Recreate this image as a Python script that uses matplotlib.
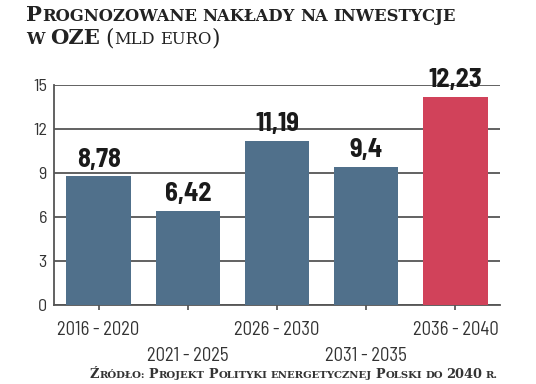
import matplotlib
matplotlib.use("Agg")
import matplotlib.pyplot as plt

# ---- data ----
categories = ["2016 - 2020", "2021 - 2025", "2026 - 2030", "2031 - 2035", "2036 - 2040"]
values = [8.78, 6.42, 11.19, 9.4, 12.23]
value_labels = ["8,78", "6,42", "11,19", "9,4", "12,23"]
# bar heights as drawn in the reference (last bar is drawn taller than its label says)
bar_heights = [8.78, 6.42, 11.19, 9.4, 14.2]
highlight = [False, False, False, False, True]
staggered = [False, True, False, True, False]
yticks = [0, 3, 6, 9, 12, 15]
title_line1 = "Prognozowane nakłady na inwestycje"
title_line2_bold = "w OZE"
title_line2_reg = " (mld euro)"
source_text = "Źródło: Projekt Polityki energetycznej Polski do 2040 r."

W, H = 536, 384
fig = plt.figure(figsize=(W / 100, H / 100), dpi=100)
renderer = fig.canvas.get_renderer()

ax = fig.add_axes([54 / W, 1 - 305 / H, (500 - 54) / W, (305 - 85) / H])
colors = ['#D1425A' if h else '#50708B' for h in highlight]
xs = list(range(len(categories)))
ax.bar(xs, bar_heights, width=0.72, color=colors, zorder=3)
ax.set_xlim(-0.5, 4.5)
ax.set_ylim(0, 15)

tick_font = 'Barlow Semi Condensed'
ax.set_yticks(yticks)
ax.set_yticklabels([str(t) for t in yticks], fontfamily=tick_font,
                   fontweight='normal', fontsize=13, color='#333333')
ax.yaxis.grid(True, color='#555555', linewidth=1.3, zorder=0)
ax.set_axisbelow(True)
ax.tick_params(axis='y', length=0, pad=5)
for s in ['top', 'right']:
    ax.spines[s].set_visible(False)
for s in ['left', 'bottom']:
    ax.spines[s].set_color('#555555')
    ax.spines[s].set_linewidth(1.3)

ax.set_xticks(xs)
ax.set_xticklabels(categories, fontfamily=tick_font, fontweight='normal',
                   fontsize=13.5, color='#333333')
ax.tick_params(axis='x', direction='out', color='#666666', width=1.4)
for tick, st in zip(ax.xaxis.get_major_ticks(), staggered):
    if st:
        tick.tick1line.set_markersize(16.5)
        tick.set_pad(27)
    else:
        tick.tick1line.set_markersize(0)
        tick.set_pad(8)

for x, h, lbl in zip(xs, bar_heights, value_labels):
    ax.annotate(lbl, (x, h), xytext=(0, 7), textcoords='offset points',
                ha='center', va='baseline', fontfamily=tick_font,
                fontweight='bold', fontsize=19, color='#1a1a1a')


def smallcaps(x, y, text, big, small, weight, family='DejaVu Serif',
              color='#222222', sp=0.30, kern=0.4):
    """x, y in pixels from top-left, y is the baseline. Returns end x."""
    runs = []
    for ch in text:
        if ch == ' ':
            kind = 'space'
        elif ch.islower():
            kind = 'small'
        elif ch in ':.' and runs and runs[-1][0] == 'small':
            kind = 'small'
        else:
            kind = 'big'
        if runs and runs[-1][0] == kind:
            runs[-1][1] += ch
        else:
            runs.append([kind, ch])
    for kind, s in runs:
        if kind == 'space':
            x += sp * small * 100 / 72 * len(s)
            continue
        size = big if kind == 'big' else small
        t = fig.text(x / W, 1 - y / H, s.upper(), fontsize=size, fontweight=weight,
                     family=family, fontstretch='normal', color=color,
                     ha='left', va='baseline')
        bb = t.get_window_extent(renderer)
        x = bb.x1 + kern
    return x


TITLE_BIG, TITLE_SMALL = 15.2, 11.8
SRC_BIG, SRC_SMALL = 9.3, 7.3

smallcaps(26, 21, title_line1, TITLE_BIG, TITLE_SMALL, 'bold')
xe = smallcaps(26, 44, title_line2_bold, TITLE_BIG, TITLE_SMALL, 'bold')
smallcaps(xe, 44, title_line2_reg, TITLE_BIG + 0.5, TITLE_SMALL, 'normal')
smallcaps(90, 378, source_text, SRC_BIG, SRC_SMALL, 'bold', color='#333333')

fig.savefig("out.png", dpi=100)
